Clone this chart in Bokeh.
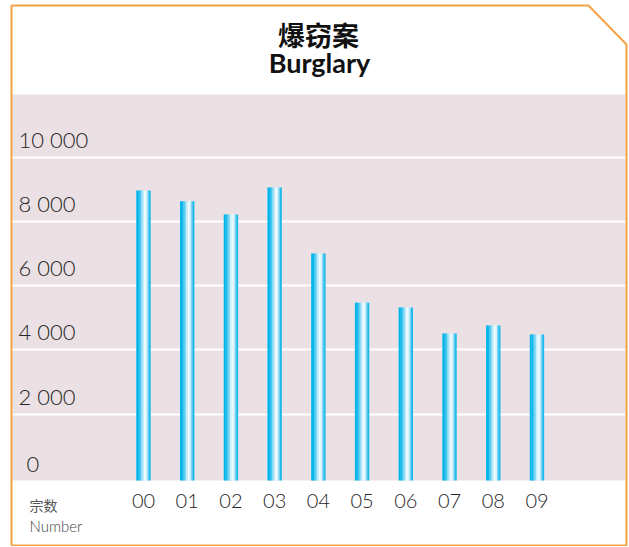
from bokeh.plotting import figure
from bokeh.models import Range1d, ColumnDataSource
from bokeh.transform import dodge
from bokeh.core.properties import value
from bokeh.embed import file_html
from bokeh.resources import INLINE

# ---- data ----
years = ["00", "01", "02", "03", "04", "05", "06", "07", "08", "09"]
burglary = [8960, 8620, 8210, 9050, 7000, 5470, 5320, 4510, 4760, 4480]
y_ticks = [2000, 4000, 6000, 8000, 10000]
y_tick_labels = ["2 000", "4 000", "6 000", "8 000", "10 000"]
zero_label = "0"
title_cn = "爆窃案"
title_en = "Burglary"
unit_cn = "宗数"
unit_en = "Number"

# ---- layout (page pixels; the plot frame fills the whole canvas) ----
W, H = 628, 546
PX_PER_CAT = 43.72
PX_PER_1000 = 32.15
FIRST_BAR_PX = 143
ZERO_PY = 478
LIGHT = "'Lato Light', Lato, sans-serif"


def px2x(px):
    return (px - FIRST_BAR_PX) / PX_PER_CAT


def px2y(py):
    return (ZERO_PY - py) * 1000 / PX_PER_1000


def up(px):
    return px * 1000 / PX_PER_1000


p = figure(width=W, height=H, output_backend="svg", toolbar_location=None,
           x_range=Range1d(px2x(0), px2x(W)), y_range=Range1d(px2y(H), px2y(0)),
           x_axis_location=None, y_axis_location=None, title=None,
           min_border_left=0, min_border_right=0,
           min_border_top=0, min_border_bottom=0)
p.background_fill_color = "white"
p.border_fill_color = "white"
p.outline_line_color = None
p.grid.visible = False

TXT = "#262626"

# pink plotting panel
p.quad(left=[px2x(12)], right=[px2x(625)], top=[px2y(94)], bottom=[px2y(480)],
       fill_color="#ebe1e4", line_color=None)
# white gridlines
p.hspan(y=y_ticks, line_color="white", line_width=2)

# bars with gradient stripes
src = ColumnDataSource(dict(x=list(range(len(years))), top=burglary,
                            bottom=[px2y(480)] * len(years)))
stripe_colors = ["#00b4ea", "#12baec", "#45c8f0", "#86dbf5", "#c6eefa",
                 "#f2fbfe", "#d8f3fb", "#7fd6f3", "#1dbbec"]
n = len(stripe_colors)
bar_px = 14.0
sw = bar_px / n
for i, c in enumerate(stripe_colors):
    off = (-bar_px / 2 + sw * (i + 0.5)) / PX_PER_CAT
    p.vbar(x=dodge("x", off, range=p.x_range), top="top", bottom="bottom",
           width=(sw + 0.4) / PX_PER_CAT, source=src,
           fill_color=c, line_color=None)

# y tick labels (inside the panel, above each gridline)
p.text(x=[px2x(18)] * len(y_ticks), y=[t + up(18) for t in y_ticks],
       text=y_tick_labels, text_baseline="middle", text_align="left",
       text_font=value(LIGHT), text_font_size="22px", text_color=TXT)
p.text(x=[px2x(26)], y=[up(14)], text=[zero_label],
       text_baseline="middle", text_align="left",
       text_font=value(LIGHT), text_font_size="22px", text_color=TXT)

# x category labels
p.text(x=list(range(len(years))), y=[px2y(500)] * len(years), text=years,
       text_baseline="middle", text_align="center",
       text_font=value(LIGHT), text_font_size="20px", text_color=TXT)

# unit labels
p.text(x=[px2x(29)], y=[px2y(504)], text=[unit_cn], text_align="left",
       text_baseline="middle", text_font=value("Noto Sans CJK SC"),
       text_font_size="14px", text_color="#555555")
p.text(x=[px2x(29)], y=[px2y(525)], text=[unit_en], text_align="left",
       text_baseline="middle", text_font=value(LIGHT),
       text_font_size="15px", text_color="#444444")

# titles
p.text(x=[px2x(318)], y=[px2y(34)], text=[title_cn], text_align="center",
       text_baseline="middle", text_font=value("Noto Sans CJK SC"),
       text_font_style="bold", text_font_size="27px", text_color="#111111")
p.text(x=[px2x(319)], y=[px2y(62)], text=[title_en], text_align="center",
       text_baseline="middle", text_font=value("Lato"),
       text_font_style="bold", text_font_size="27px", text_color="#111111")

# orange frame with cut corner
p.patch(x=[px2x(11), px2x(588), px2x(626), px2x(626), px2x(11)],
        y=[px2y(5), px2y(5), px2y(44), px2y(545), px2y(545)],
        fill_color=None, line_color="#f4a245", line_width=2)

open("out.html", "w").write(file_html(p, INLINE))
